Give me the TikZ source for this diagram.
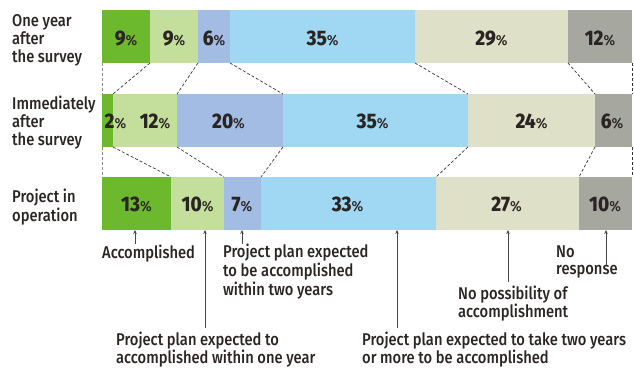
\documentclass[tikz,border=0pt]{standalone}
\usepackage{fontspec}
\setmainfont{Liberation Sans}[FakeStretch=0.92]
\newfontfamily\labf{Fira Sans Medium}[FakeStretch=0.865]
\newfontfamily\pcf{Fira Sans Medium}[FakeStretch=0.95]
\newfontfamily\numf{Fira Sans ExtraBold}[FakeStretch=0.9]
\usetikzlibrary{arrows.meta}
\definecolor{cA}{HTML}{6DB92E}
\definecolor{cB}{HTML}{C3DF9B}
\definecolor{cC}{HTML}{A2BCE3}
\definecolor{cD}{HTML}{A0D8F4}
\definecolor{cE}{HTML}{DEE0C7}
\definecolor{cF}{HTML}{A6A8A0}
\definecolor{txt}{HTML}{2A2422}
\definecolor{dashc}{HTML}{3A3636}
\definecolor{dashg}{HTML}{8A8A8A}
\definecolor{annc}{HTML}{4A4646}
\newcommand{\pct}[1]{{\numf\fontsize{21}{21}\selectfont #1}{\pcf\fontsize{14.5}{14.5}\selectfont\%}}
\newcommand{\ml}[1]{\begin{tabular}[t]{@{}l@{}}#1\end{tabular}}
\begin{document}
\begin{tikzpicture}[x=1pt,y=-1pt,
  seg/.style={draw=none, inner sep=0, outer sep=0, minimum height=53, anchor=north west},
  num/.style={anchor=base, inner sep=0, text=txt},
  lab/.style={anchor=base west, inner sep=0, text=txt, font=\labf\fontsize{17}{18.3}\selectfont},
  labt/.style={lab, font=\labf\fontsize{17}{17.2}\selectfont},
  conn/.style={draw=dashc, line width=0.7pt, dash pattern=on 3pt off 2pt},
  conng/.style={draw=dashg, line width=0.9pt, dash pattern=on 3pt off 2pt},
  ann/.style={draw=annc, line width=1pt, -{Stealth[length=4pt,width=3.5pt]}}]
\useasboundingbox (0,0) rectangle (634,367);
% bars
\foreach \n/\x/\w/\c in {1/102/48/cA,2/150/48/cB,3/198/32/cC,4/230/185/cD,5/415/153/cE,6/568/64/cF}
  \node[seg, fill=\c, minimum width=\w] (b1s\n) at (\x,10) {};
\foreach \n/\x/\w/\c in {1/102/11/cA,2/113/64/cB,3/177/106/cC,4/283/185/cD,5/468/127/cE,6/595/37/cF}
  \node[seg, fill=\c, minimum width=\w] (b2s\n) at (\x,94) {};
\foreach \n/\x/\w/\c in {1/102/69/cA,2/171/53/cB,3/224/37/cC,4/261/175/cD,5/436/143/cE,6/579/53/cF}
  \node[seg, fill=\c, minimum width=\w] (b3s\n) at (\x,177) {};
% numbers
\node[num] (n1a) at (126,45) {\pct{9}};
\node[num] (n1b) at (174,45) {\pct{9}};
\node[num] (n1c) at (214,45) {\pct{6}};
\node[num] (n1d) at (322.5,45) {\pct{35}};
\node[num] (n1e) at (491.5,45) {\pct{29}};
\node[num] (n1f) at (600,45) {\pct{12}};
\node[num] (n2a) at (115.5,128.5) {\pct{2}};
\node[num] (n2b) at (155,128.5) {\pct{12}};
\node[num] (n2c) at (228.5,128.5) {\pct{20}};
\node[num] (n2d) at (372.5,128.5) {\pct{35}};
\node[num] (n2e) at (531.5,128.5) {\pct{24}};
\node[num] (n2f) at (612,128.5) {\pct{6}};
\node[num] (n3a) at (136.5,211) {\pct{13}};
\node[num] (n3b) at (197.5,211) {\pct{10}};
\node[num] (n3c) at (242,211) {\pct{7}};
\node[num] (n3d) at (347.5,211) {\pct{33}};
\node[num] (n3e) at (506.5,211) {\pct{27}};
\node[num] (n3f) at (605,211) {\pct{10}};
% dashed connectors bar1 -> bar2
\draw[conng] (b1s1.south west) -- (b2s1.north west);
\foreach \n in {1,...,5} \draw[conn] (b1s\n.south east) -- (b2s\n.north east);
\draw[conn] (b1s6.south east) -- (b2s6.north east);
% bar2 -> bar3
\draw[conng] (b2s1.south west) -- (b3s1.north west);
\foreach \n in {1,...,5} \draw[conn] (b2s\n.south east) -- (b3s\n.north east);
\draw[conn] (b2s6.south east) -- (b3s6.north east);
% row labels
\node[lab] (r1) at (12,26) {\ml{One year\\after\\the survey}};
\node[lab] (r2) at (12,109) {\ml{Immediately\\after\\the survey}};
\node[lab] (r3) at (12,202) {\ml{Project in\\operation}};
% legend labels
\node[lab] (l1) at (102,258) {\ml{Accomplished}};
\node[labt] (l2) at (116,345) {\ml{Project plan expected to\\accomplished within one year}};
\node[lab] (l3) at (223,257) {\ml{Project plan expected\\to be accomplished\\within two years}};
\node[labt] (l4) at (362,345) {\ml{Project plan expected to take two years\\or more to be accomplished}};
\node[labt] (l5) at (458,299) {\ml{No possibility of\\accomplishment}};
\node[labt] (l6) at (556,257) {\ml{No\\response}};
% annotation arrows
\coordinate (p1) at (135,244);
\coordinate (p2) at (205,328);
\coordinate (p3) at (242,244);
\coordinate (p4) at (397,328);
\coordinate (p5) at (508,282);
\coordinate (p6) at (606,265);
\draw[ann] (p1) -- (p1 |- b3s1.south);
\draw[ann] (p2) -- (p2 |- b3s2.south);
\draw[ann] (p3) -- (p3 |- b3s3.south);
\draw[ann] (p4) -- (p4 |- b3s4.south);
\draw[ann] (p5) -- (p5 |- b3s5.south);
\draw[ann] (p6) -- (p6 |- b3s6.south);
\end{tikzpicture}
\end{document}
